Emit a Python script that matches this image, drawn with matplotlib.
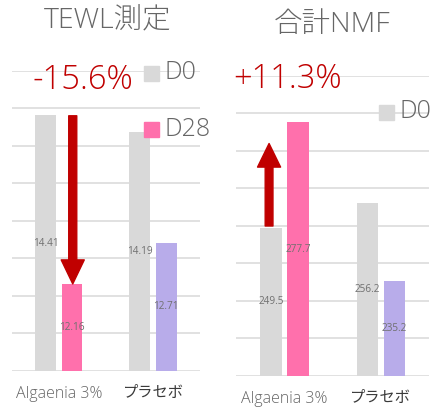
import matplotlib.pyplot as plt

plt.rcParams['font.family'] = ['Open Sans', 'Noto Sans CJK JP', 'DejaVu Sans']
plt.rcParams['font.weight'] = 'light'

groups = ['Algaenia 3%', 'プラセボ']
tewl_d0 = [14.41, 14.19]
tewl_d28 = [12.16, 12.71]
nmf_d0 = [249.5, 256.2]
nmf_d28 = [277.7, 235.2]

c_d0 = '#D9D9D9'
c_pink = '#FF70AC'
c_purple = '#B8ACEA'
c_red = '#C00000'
c_text = '#666666'

fig = plt.figure(figsize=(4.34, 4.13), dpi=100)
ax1 = fig.add_axes([0.027, 0.1017, 0.434, 0.727])
ax2 = fig.add_axes([0.5445, 0.0896, 0.444, 0.7264])


def panel(ax, d0, d28, ymin, ymax, step, fmt):
    ax.set_xlim(-0.5, 1.5)
    ax.set_ylim(ymin, ymax)
    n = int(round((ymax - ymin) / step))
    ax.set_yticks([ymin + i * step for i in range(n + 1)])
    ax.grid(axis='y', color='#D9D9D9', linewidth=1.1)
    ax.set_axisbelow(True)
    for s in ax.spines.values():
        s.set_visible(False)
    ax.tick_params(axis='y', left=False, labelleft=False)
    ax.tick_params(axis='x', length=0, pad=11)
    x = [0, 1]
    ax.bar([i - 0.14 for i in x], [v - ymin for v in d0], bottom=ymin,
           width=0.22, color=c_d0, zorder=2)
    ax.bar([i + 0.14 for i in x], [v - ymin for v in d28], bottom=ymin,
           width=0.22, color=[c_pink, c_purple], zorder=2)
    for i in x:
        ax.text(i - 0.14, (ymin + d0[i]) / 2, fmt.format(d0[i]), ha='center',
                va='center', fontsize=7.2, color='#707070', fontweight='normal',
                zorder=3)
        ax.text(i + 0.14, (ymin + d28[i]) / 2, fmt.format(d28[i]), ha='center',
                va='center', fontsize=7.2, color='#707070', fontweight='normal',
                zorder=3)
    ax.set_xticks(x)
    ax.set_xticklabels(groups, fontsize=11.5)
    lbls = ax.get_xticklabels()
    lbls[0].set_color(c_text)
    lbls[1].set_color('#3a3a3a')
    lbls[1].set_fontsize(11)
    lbls[1].set_fontweight('normal')


panel(ax1, tewl_d0, tewl_d28, 11, 15, 0.5, '{:.2f}')
panel(ax2, nmf_d0, nmf_d28, 210, 290, 10, '{:.1f}')

# titles
fig.text(0.247, 0.948, 'TEWL測定', ha='center', va='center', fontsize=20.5, color=c_text)
fig.text(0.765, 0.94, '合計NMF', ha='center', va='center', fontsize=20.5, color=c_text)

# change labels
ax1.text(0.254, 14.87, '-15.6%', ha='center', va='center', fontsize=23.5,
         color=c_red, zorder=4)
ax2.text(0.03, 289, '+11.3%', ha='center', va='center', fontsize=23.5,
         color=c_red, zorder=4, clip_on=False)

# arrows
ax1.annotate('', xy=(0.148, 12.16), xytext=(0.148, 14.4),
             arrowprops=dict(width=5.8, headwidth=16.6, headlength=17.3,
                             color=c_red, shrink=0), zorder=4)
ax2.annotate('', xy=(-0.16, 272), xytext=(-0.16, 250),
             arrowprops=dict(width=5.6, headwidth=16.6, headlength=17,
                             color=c_red, shrink=0), zorder=4)

# legends
ax1.plot([0.974], [14.97], marker='s', markersize=10.8, color=c_d0,
         linestyle='none', clip_on=False, zorder=4)
ax1.text(1.12, 14.97, 'D0', ha='left', va='center', fontsize=18, color=c_text)
ax1.plot([0.974], [14.22], marker='s', markersize=10.8, color=c_pink,
         linestyle='none', clip_on=False, zorder=4)
ax1.text(1.12, 14.22, 'D28', ha='left', va='center', fontsize=18, color=c_text)
ax2.plot([1.05], [280.4], marker='s', markersize=10.8, color=c_d0,
         linestyle='none', clip_on=False, zorder=4)
ax2.text(1.195, 280.4, 'D0', ha='left', va='center', fontsize=18, color=c_text,
         clip_on=False)

fig.savefig('out.png', dpi=100)
